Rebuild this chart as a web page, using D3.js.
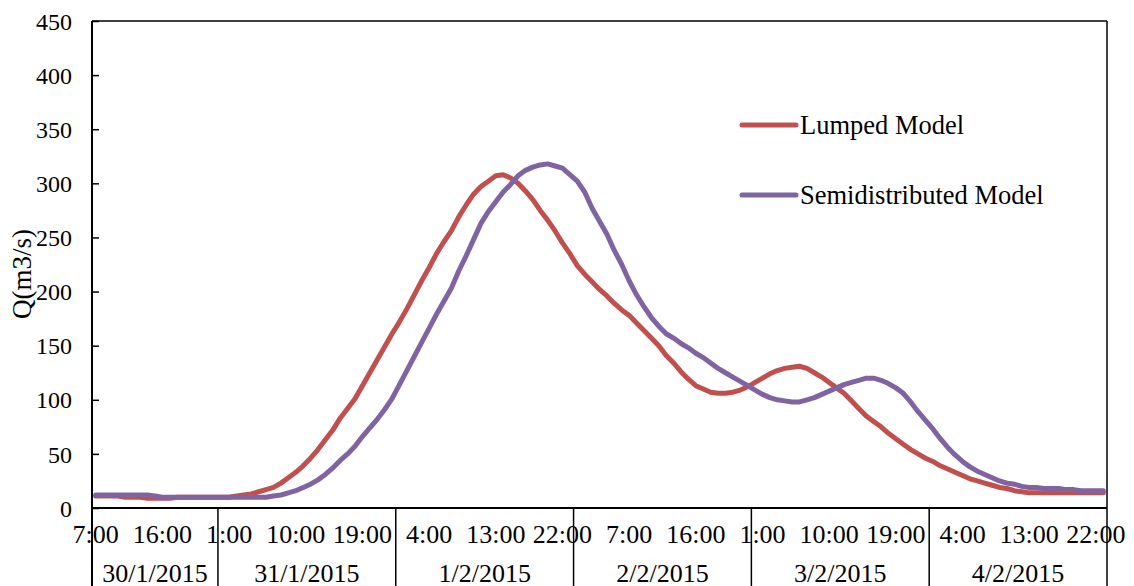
<!DOCTYPE html>
<html>
<head>
<meta charset="utf-8">
<script src="https://cdn.jsdelivr.net/npm/d3@7"></script>
<style>
  body { margin: 0; background: #fff; }
  text { font-family: "Times New Roman", "Liberation Serif", serif; fill: #000; }
</style>
</head>
<body>
<div id="chart"></div>
<script>
// DATA
const days = ["30/1/2015", "31/1/2015", "1/2/2015", "2/2/2015", "3/2/2015", "4/2/2015"];
const hoursPerDay = [17, 24, 24, 24, 24, 24];
const hourLabels = ["7:00", "16:00", "1:00", "10:00", "19:00", "4:00", "13:00", "22:00",
  "7:00", "16:00", "1:00", "10:00", "19:00", "4:00", "13:00", "22:00"];
const labelEvery = 9;
const yTicks = [0, 50, 100, 150, 200, 250, 300, 350, 400, 450];
const seriesNames = ["Lumped Model", "Semidistributed Model"];

const lumped = [
  11, 11, 11, 11, 10, 10, 10, 9, 9, 9,
  9, 10, 10, 10, 10, 10, 10, 10, 10, 11,
  12, 13, 15, 17, 19, 23, 28, 33, 39, 46,
  54, 63, 72, 83, 92, 101, 113, 125, 137, 149,
  161, 172, 184, 197, 210, 222, 235, 246, 256, 269,
  280, 290, 297, 302, 307, 308, 305, 300, 293, 285,
  275, 266, 256, 245, 235, 224, 216, 209, 202, 196,
  189, 183, 178, 171, 164, 157, 150, 141, 134, 126,
  119, 113, 110, 107, 106, 106, 107, 109, 112, 116,
  120, 124, 127, 129, 130, 131, 129, 125, 121, 116,
  111, 106, 99, 92, 85, 80, 75, 69, 64, 59,
  54, 50, 46, 43, 39, 36, 33, 30, 27, 25,
  23, 21, 19, 18, 16, 15, 14, 14, 14, 14,
  14, 14, 14, 14, 14, 14, 14
];

const semidistributed = [
  12, 12, 12, 12, 12, 12, 12, 12, 11, 10,
  10, 10, 10, 10, 10, 10, 10, 10, 10, 10,
  10, 10, 10, 10, 11, 12, 14, 16, 19, 22,
  26, 31, 37, 44, 50, 57, 66, 74, 82, 91,
  101, 114, 127, 140, 153, 166, 179, 191, 203, 219,
  233, 248, 263, 274, 283, 292, 299, 307, 312, 315,
  317, 318, 316, 314, 308, 302, 292, 277, 265, 253,
  238, 225, 210, 197, 186, 176, 168, 161, 157, 152,
  148, 143, 139, 134, 129, 125, 121, 117, 113, 109,
  105, 102, 100, 99, 98, 98, 100, 102, 105, 108,
  111, 114, 116, 118, 120, 120, 118, 115, 111, 106,
  98, 89, 81, 73, 64, 56, 49, 43, 38, 34,
  31, 28, 25, 23, 22, 20, 19, 19, 18, 18,
  18, 17, 17, 16, 16, 16, 16
];

const width = 1134;
const height = 586;
const plot = { left: 92, right: 1107, top: 21, bottom: 508 };
const colors = ["#C0504D", "#8064A2"];

// CHART SVG
const svg = d3.select("#chart")
  .append("svg")
  .attr("width", width)
  .attr("height", height);

// SCALES
const x = d3.scaleBand()
  .domain(d3.range(lumped.length))
  .range([plot.left, plot.right])
  .padding(0);
const cx = (i) => x(i) + x.bandwidth() / 2;

const y = d3.scaleLinear().domain([0, 450]).range([plot.bottom, plot.top]);

// Y AXIS (ticks point inward)
const yAxisG = svg.append("g")
  .attr("transform", `translate(${plot.left},0)`)
  .call(d3.axisLeft(y).tickValues(yTicks).tickSizeInner(-7).tickSizeOuter(0).tickPadding(20));
yAxisG.select(".domain").remove();
yAxisG.selectAll("line").attr("stroke", "#000").attr("stroke-width", 1.5);
yAxisG.selectAll("text")
  .attr("font-family", null)
  .attr("font-size", 24)
  .attr("dy", "0.34em");

// X AXIS (hour labels every 9th category)
const tickIdx = d3.range(0, lumped.length, labelEvery);
const xAxisG = svg.append("g")
  .attr("transform", `translate(0,${plot.bottom})`)
  .call(d3.axisBottom(x).tickValues(tickIdx).tickSize(0)
    .tickFormat((d, i) => hourLabels[i]));
xAxisG.select(".domain").remove();
xAxisG.selectAll("text")
  .attr("font-family", null)
  .attr("font-size", 26)
  .attr("dy", null)
  .attr("y", 35);

// DAY GROUPS
const dayStart = [];
let acc = 0;
hoursPerDay.forEach((n) => { dayStart.push(acc); acc += n; });

svg.append("g")
  .selectAll("line")
  .data(dayStart.slice(1))
  .join("line")
  .attr("x1", (d) => x(d))
  .attr("x2", (d) => x(d))
  .attr("y1", plot.bottom)
  .attr("y2", height)
  .attr("stroke", "#000")
  .attr("stroke-width", 1.5);

svg.append("g")
  .selectAll("text")
  .data(days)
  .join("text")
  .attr("x", (d, i) => (x(dayStart[i]) + x(dayStart[i] + hoursPerDay[i] - 1) + x.bandwidth()) / 2)
  .attr("y", 582)
  .attr("text-anchor", "middle")
  .attr("font-size", 26)
  .text((d) => d);

// FRAME
const frame = svg.append("g").attr("stroke", "#000").attr("fill", "none");
frame.append("line").attr("x1", plot.left).attr("x2", plot.right)
  .attr("y1", plot.top).attr("y2", plot.top).attr("stroke-width", 1.5);
frame.append("line").attr("x1", plot.right).attr("x2", plot.right)
  .attr("y1", plot.top).attr("y2", height).attr("stroke-width", 1.5);
frame.append("line").attr("x1", plot.left).attr("x2", plot.left)
  .attr("y1", plot.top).attr("y2", height).attr("stroke-width", 2);
frame.append("line").attr("x1", plot.left).attr("x2", plot.right)
  .attr("y1", plot.bottom).attr("y2", plot.bottom).attr("stroke-width", 2);

// Y TITLE
svg.append("text")
  .attr("transform", "translate(31,274) rotate(-90)")
  .attr("text-anchor", "middle")
  .attr("font-size", 27)
  .text("Q(m3/s)");

// SERIES
const line = d3.line().x((d, i) => cx(i)).y((d) => y(d));
[lumped, semidistributed].forEach((s, k) => {
  svg.append("path")
    .datum(s)
    .attr("fill", "none")
    .attr("stroke", colors[k])
    .attr("stroke-width", 5)
    .attr("stroke-linejoin", "round")
    .attr("stroke-linecap", "round")
    .attr("d", line);
});

// LEGEND
const legend = svg.append("g").attr("transform", "translate(742,125)");
seriesNames.forEach((name, k) => {
  const g = legend.append("g").attr("transform", `translate(0,${k * 70})`);
  g.append("line")
    .attr("x1", 0).attr("x2", 54)
    .attr("stroke", colors[k])
    .attr("stroke-width", 5)
    .attr("stroke-linecap", "round");
  g.append("text")
    .attr("x", 58)
    .attr("y", 9)
    .attr("font-size", 26.5)
    .text(name);
});
</script>
</body>
</html>
